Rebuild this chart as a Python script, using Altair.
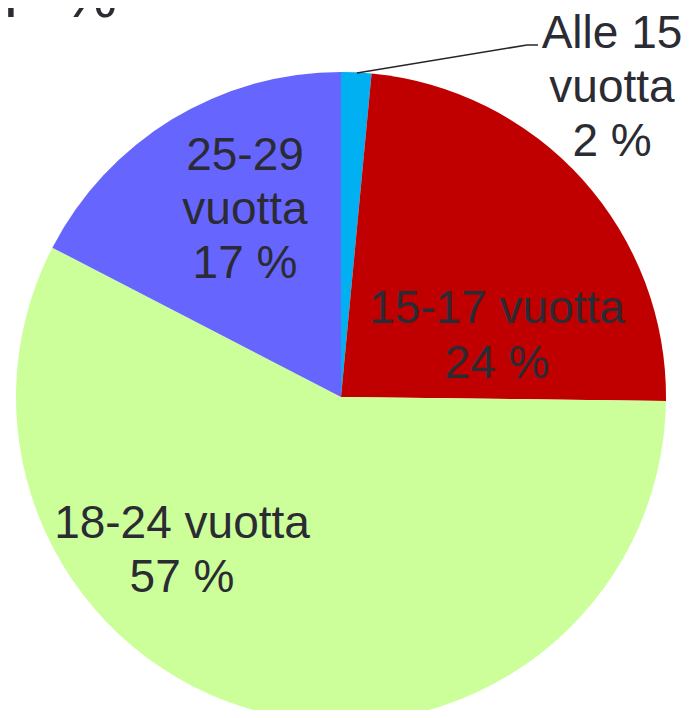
import altair as alt
import pandas as pd

categories = ["Alle 15 vuotta", "15-17 vuotta", "18-24 vuotta", "25-29 vuotta"]
shares = [1.5, 23.7, 57.4, 17.4]
label_lines = [
    ["Alle 15", "vuotta", "2 %"],
    ["15-17 vuotta", "24 %"],
    ["18-24 vuotta", "57 %"],
    ["25-29", "vuotta", "17 %"],
]
colors = ["#00B0F0", "#C00000", "#CCFF99", "#6666FF"]
title_fragments = ["l", "%"]

df = pd.DataFrame({"category": categories, "share": shares, "idx": list(range(len(categories)))})

CX, CY, R = 333, 389, 325
FONT = "Liberation Sans"
TXT = "#2b2b33"

pie = alt.Chart(df).mark_arc(outerRadius=R).encode(
    theta=alt.Theta("share:Q", stack=True, scale=alt.Scale(range=[0, 6.283185307179586])),
    color=alt.Color("category:N", scale=alt.Scale(domain=categories, range=colors), legend=None),
    order=alt.Order("idx:Q"),
    x=alt.value(CX),
    y=alt.value(CY),
)

one = pd.DataFrame({"a": [0]})

label_pos = [(604, 40, 54), (489, 315, 55), (174, 530, 54), (237, 162, 54)]
layers = [pie]
for lines, (lx, ly, lh) in zip(label_lines, label_pos):
    layers.append(
        alt.Chart(one).mark_text(
            text=lines, font=FONT, fontSize=46, color=TXT, align="center",
            baseline="alphabetic", lineHeight=lh,
        ).encode(x=alt.value(lx), y=alt.value(ly))
    )

leader1 = alt.Chart(one).mark_rule(color="#262626", strokeWidth=1.5).encode(
    x=alt.value(349), y=alt.value(65), x2=alt.value(519), y2=alt.value(37)
)
leader2 = alt.Chart(one).mark_rule(color="#262626", strokeWidth=1.5).encode(
    x=alt.value(519), y=alt.value(37), x2=alt.value(530), y2=alt.value(37)
)
layers += [leader1, leader2]

for frag, fx in zip(title_fragments, [-4, 54]):
    layers.append(
        alt.Chart(one).mark_text(
            text=frag, font=FONT, fontSize=62, color=TXT, align="left", baseline="alphabetic"
        ).encode(x=alt.value(fx), y=alt.value(9))
    )

chart = alt.layer(*layers).properties(
    width=674, height=702, padding=0,
    autosize=alt.AutoSizeParams(type="none"),
).configure_view(stroke=None)

chart.save("out.html", embed_options={"renderer": "svg", "actions": False})
